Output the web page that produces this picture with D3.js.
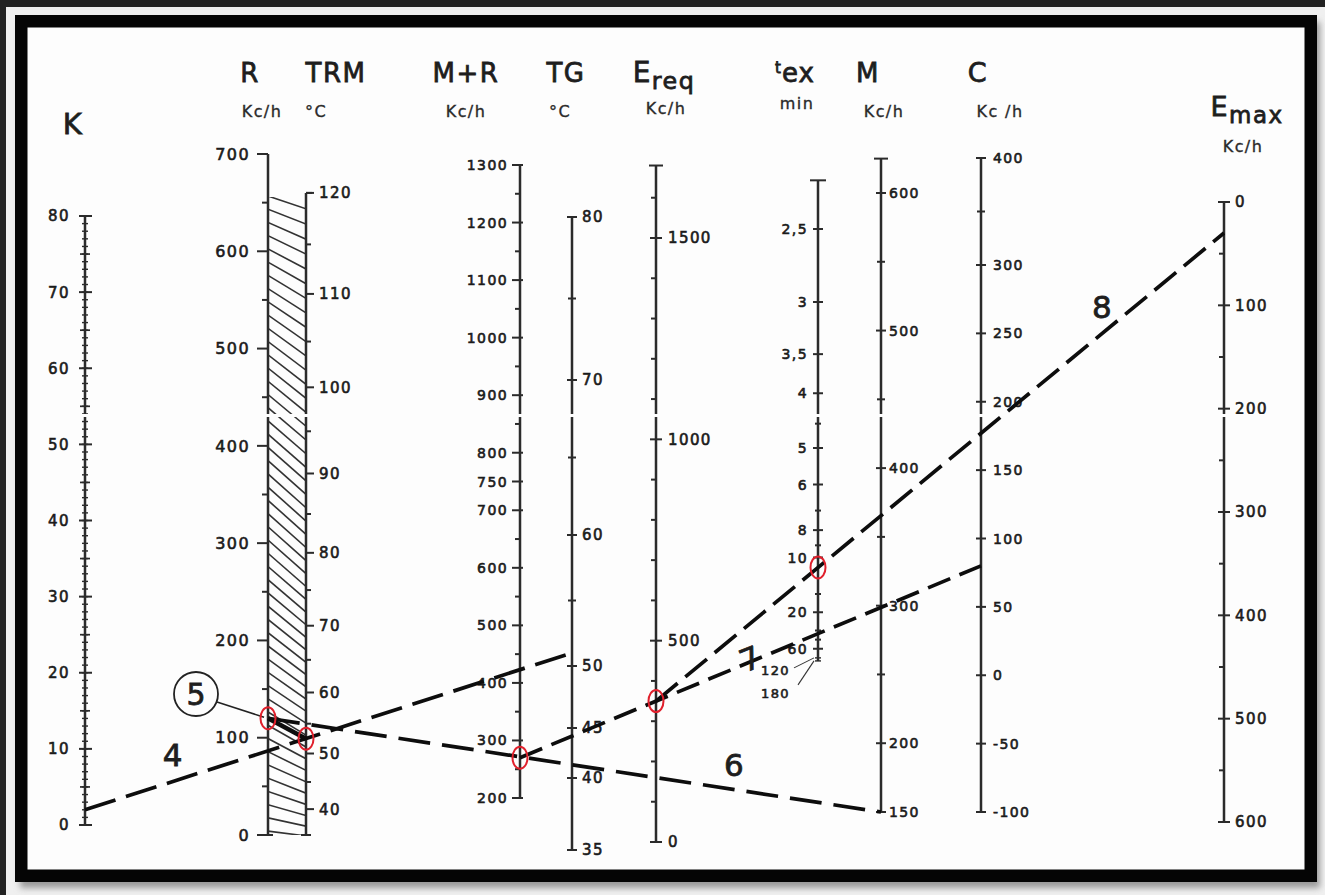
<!DOCTYPE html>
<html>
<head>
<meta charset="utf-8">
<script src="https://cdn.jsdelivr.net/npm/d3@7"></script>
<style>
    html, body { margin: 0; padding: 0; background: #f1f1f1; }
    svg { display: block; }
    .tick-label { font-family: "DejaVu Sans", sans-serif; font-size: 14px; fill: #1b1b1b; stroke: #1b1b1b; stroke-width: 0.6px; letter-spacing: 1.4px; }
    .title { font-family: "DejaVu Sans", sans-serif; fill: #1e1e1e; stroke: #1e1e1e; stroke-width: 0.8px; }
    .unit { font-family: "DejaVu Sans", sans-serif; font-size: 16px; fill: #2a2a2a; stroke: #2a2a2a; stroke-width: 0.35px; letter-spacing: 1.4px; }
</style>
</head>
<body>
<svg id="chart" width="1325" height="895"></svg>
<script>
// ---- tick values ----
const kLabels = [0, 10, 20, 30, 40, 50, 60, 70, 80];
const rLabels = [0, 100, 200, 300, 400, 500, 600, 700];
const rMinor = [50, 150, 250, 350, 450, 550, 650];
const trmLabels = [40, 50, 60, 70, 80, 90, 100, 110, 120];
const trmMinor = [45, 55, 65, 75, 85, 95, 105, 115];
const mrLabels = [200, 300, 400, 500, 600, 700, 750, 800, 900, 1000, 1100, 1200, 1300];
const mrMinor = [250, 350, 450, 550, 650, 850, 950, 1050, 1150, 1250];
const tgLabels = [35, 40, 45, 50, 60, 70, 80];
const tgMinor = [55, 65, 75];
const ereqLabels = [0, 500, 1000, 1500];
const ereqMinor = [100, 200, 300, 400, 600, 700, 800, 900, 1100, 1200, 1300, 1400, 1600];
const texLabels = [2.5, 3, 3.5, 4, 5, 6, 8, 10, 20, 60, 120, 180];
const texMinor = [4.5, 7, 9, 15, 30, 40];
const mLabels = [150, 200, 300, 400, 500, 600];
const mMinor = [250, 350, 450, 550];
const cLabels = [-100, -50, 0, 50, 100, 150, 200, 250, 300, 400];
const cMinor = [350];
const emaxLabels = [0, 100, 200, 300, 400, 500, 600];
const emaxMinor = [50, 150, 250, 350, 450, 550];

// ---- the worked solution (lines 4..8 and the circled readings) ----
const lineNames = ["4", "5", "6", "7", "8"];
const lineFrom = [["K", 2], ["R", 120], ["R", 120], ["MR", 270], ["Ereq", 350]];
const lineTo = [["TG", 51], ["TRM", 52.5], ["M", 150], ["C", 80], ["Emax", 30]];
const markerAxes = ["R", "TRM", "MR", "Ereq", "tex"];
const markerValues = [120, 52.5, 270, 350, 11];

const svg = d3.select("#chart");

// ---- scales ----
const yK = d3.scaleLinear().domain([0, 80]).range([825, 216]);
const yR = d3.scaleLinear().domain([0, 700]).range([835, 154]);
// TRM is a radiant (4th power) scale laid against R
const trmToR = d3.scaleLinear().domain([0, Math.pow(393, 4) - Math.pow(308, 4)]).range([0, 660]);
const yTRM = t => yR(trmToR(Math.pow(t + 273, 4) - Math.pow(308, 4)));
const yMR = d3.scaleLinear().domain([200, 1300]).range([798, 165]);
const yTG = d3.scaleLinear().domain([35, 40, 45, 50, 60, 70, 80]).range([850, 778, 728, 666, 535, 380, 217]);
const yE = d3.scaleLinear().domain([0, 1500]).range([842, 238]);
const yTexInv = d3.scaleLinear().domain([0, 0.4]).range([667, 229]);
const yTex = t => yTexInv(1 / t);
const yM = d3.scaleLinear().domain([150, 600]).range([812, 193]);
const yC = d3.scaleLinear().domain([-100, 300, 400]).range([812, 265, 158]);
const yEmax = d3.scaleLinear().domain([0, 600]).range([202, 822]);

const axisX = { K: 85, R: 268, TRM: 306, MR: 520, TG: 572, Ereq: 656, tex: 818, M: 881, C: 981, Emax: 1224 };
const axisY = { K: yK, R: yR, TRM: yTRM, MR: yMR, TG: yTG, Ereq: yE, tex: yTex, M: yM, C: yC, Emax: yEmax };
const axisExtent = { K: [0, 80], R: [0, 700], TRM: [35, 120], MR: [200, 1300], TG: [35, 80],
    Ereq: [0, 1680], tex: [2.25, 180], M: [150, 625], C: [-100, 400], Emax: [0, 600] };

// ---- frame ----
svg.append("rect").attr("width", 1325).attr("height", 895).attr("fill", "#f0f0f0");
svg.append("rect").attr("width", 1325).attr("height", 7).attr("fill", "#222");
svg.append("rect").attr("width", 6).attr("height", 895).attr("fill", "#222");

const defs = svg.append("defs");
defs.append("filter").attr("id", "soft")
    .append("feGaussianBlur").attr("stdDeviation", 3);
defs.append("clipPath").attr("id", "band")
    .append("rect")
    .attr("x", axisX.R).attr("y", yTRM(120) + 4)
    .attr("width", axisX.TRM - axisX.R)
    .attr("height", yR(0) - yTRM(120) - 4);

svg.append("rect")
    .attr("x", 20).attr("y", 22).attr("width", 1300).attr("height", 866)
    .attr("fill", "#9a9a9a").attr("filter", "url(#soft)");
svg.append("rect")
    .attr("x", 21.25).attr("y", 21.25).attr("width", 1289.5).attr("height", 854.5)
    .attr("fill", "#fdfdfd").attr("stroke", "#050505").attr("stroke-width", 12.5);

const g = svg.append("g");

// ---- helpers ----
function axisLine(key) {
    const ext = axisExtent[key];
    g.append("line")
        .attr("x1", axisX[key]).attr("x2", axisX[key])
        .attr("y1", axisY[key](ext[0])).attr("y2", axisY[key](ext[1]))
        .attr("stroke", "#2b2b2b").attr("stroke-width", 2.5);
}

function ticks(key, values, left, right, w) {
    g.selectAll(null).data(values).enter().append("line")
        .attr("x1", axisX[key] - left).attr("x2", axisX[key] + right)
        .attr("y1", d => axisY[key](d)).attr("y2", d => axisY[key](d))
        .attr("stroke", "#2b2b2b").attr("stroke-width", w || 2);
}

function labels(key, values, dx, anchor, fmt, size) {
    g.selectAll(null).data(values).enter().append("text")
        .attr("class", "tick-label")
        .attr("x", axisX[key] + dx)
        .attr("y", d => axisY[key](d))
        .attr("dy", "0.36em")
        .attr("text-anchor", anchor)
        .style("font-size", (size || 14) + "px")
        .text(fmt || (d => d));
}

// ---- hatched band between R and TRM ----
const hatch = g.append("g").attr("clip-path", "url(#band)");
const hatchVals = d3.range(4, 662, 13.6);
hatch.selectAll("line").data(hatchVals).enter().append("line")
    .attr("x1", axisX.R).attr("x2", axisX.TRM)
    .attr("y1", d => yR(d))
    .attr("y2", d => yR(d) + 3 + 31 * Math.pow(Math.sin(Math.PI * d / 700), 0.7))
    .attr("stroke", "#333").attr("stroke-width", 1.6);

// ---- axes ----
Object.keys(axisX).forEach(axisLine);

// K : ruler
ticks("K", d3.range(0, 81, 1), 3, 3, 1.4);
ticks("K", d3.range(5, 80, 10), 5, 5, 1.7);
ticks("K", kLabels, 6, 7, 2);
labels("K", kLabels, -15, "end", null, 15);

// R
ticks("R", rLabels, 11, 0);
ticks("R", rMinor, 6, 0);
ticks("R", [0], 5, 5);
labels("R", rLabels, -18, "end", null, 16);

// TRM
ticks("TRM", trmLabels, 0, 8);
ticks("TRM", trmMinor, 0, 5);
ticks("TRM", [35], 5, 5);
ticks("TRM", [120], 0, 6);
labels("TRM", trmLabels, 13, "start", null, 15);

// M+R
ticks("MR", mrLabels, 8, 3);
ticks("MR", mrMinor, 5, 0);
labels("MR", mrLabels, -12, "end", null, 14);

// TG
ticks("TG", tgLabels, 5, 5);
ticks("TG", tgMinor, 4, 4);
labels("TG", tgLabels, 10, "start", null, 15);

// Ereq
ticks("Ereq", ereqLabels, 6, 6);
ticks("Ereq", ereqMinor, 5, 0);
ticks("Ereq", [1680], 7, 7);
labels("Ereq", ereqLabels, 12, "start", null, 15);

// tex : reciprocal time scale
ticks("tex", texLabels.filter(d => d <= 60), 5, 5);
ticks("tex", texMinor, 3, 3);
ticks("tex", [2.25], 8, 8);
ticks("tex", [120, 180], 3, 3, 1.4);
labels("tex", texLabels.filter(d => d <= 60), -10, "end", d => String(d).replace(".", ","), 14);
// crowded long-time labels, pulled down with leader strokes
const texLate = texLabels.filter(d => d > 60);
g.selectAll(null).data(texLate).enter().append("text")
    .attr("class", "tick-label")
    .attr("x", axisX.tex - 28)
    .attr("y", (d, i) => yTex(d) + 12 + i * 20)
    .attr("dy", "0.36em")
    .attr("text-anchor", "end")
    .style("font-size", "13px")
    .text(d => d);
g.selectAll(null).data(texLate).enter().append("line")
    .attr("x1", (d, i) => axisX.tex - 24 + i * 4)
    .attr("y1", (d, i) => yTex(d) + 10 + i * 14)
    .attr("x2", axisX.tex - 4).attr("y2", d => yTex(d))
    .attr("stroke", "#333").attr("stroke-width", 1.1);

// M
ticks("M", mLabels, 5, 5);
ticks("M", mMinor, 4, 4);
ticks("M", [625], 7, 7);
labels("M", mLabels, 8, "start", null, 14);

// C
ticks("C", cLabels, 5, 5);
ticks("C", cMinor, 4, 4);
labels("C", cLabels, 12, "start", null, 14);

// Emax
ticks("Emax", emaxLabels, 6, 6);
ticks("Emax", emaxMinor, 5, 0);
labels("Emax", emaxLabels, 11, "start", null, 15);

// scan seam across the sheet
g.append("rect").attr("x", 28).attr("y", 414).attr("width", 1274).attr("height", 3).attr("fill", "#fdfdfd");

// ---- headers ----
function header(x, y, txt, size, sub) {
    const t = g.append("text").attr("class", "title")
        .attr("x", x).attr("y", y).attr("text-anchor", "middle")
        .style("font-size", size + "px").style("letter-spacing", "1.5px");
    t.append("tspan").text(txt);
    if (sub) t.append("tspan").attr("dy", 7).style("font-size", (size * 0.85) + "px").text(sub);
}
function unit(x, y, txt) {
    g.append("text").attr("class", "unit").attr("x", x).attr("y", y)
        .attr("text-anchor", "middle").text(txt);
}
header(73, 134, "K", 29);
header(250, 82, "R", 26);
unit(262, 117, "Kc/h");
header(336, 82, "TRM", 26);
unit(316, 117, "°C");
header(466, 82, "M+R", 26);
unit(466, 117, "Kc/h");
header(566, 82, "TG", 26);
unit(560, 117, "°C");
header(664, 82, "E", 28, "req");
unit(666, 114, "Kc/h");
g.append("text").attr("class", "title").attr("x", 775).attr("y", 82)
    .style("font-size", "26px").style("letter-spacing", "1px")
    .call(t => {
        t.append("tspan").attr("dy", -9).style("font-size", "15px").text("t");
        t.append("tspan").attr("dy", 9).text("ex");
    });
unit(797, 109, "min");
header(868, 82, "M", 26);
unit(884, 117, "Kc/h");
header(978, 82, "C", 27);
unit(1000, 117, "Kc /h");
header(1247, 116, "E", 27, "max");
unit(1243, 152, "Kc/h");

// ---- solution lines ----
const pt = a => [axisX[a[0]], axisY[a[0]](a[1])];
const lineGen = d3.line();
const dashes = ["32 11", null, "32 12", "24 10", "28 10"];

lineNames.forEach((name, i) => {
    const p0 = pt(lineFrom[i]), p1 = pt(lineTo[i]);
    g.append("path")
        .attr("d", lineGen([p0, p1]))
        .attr("fill", "none")
        .attr("stroke", "#0d0d0d")
        .attr("stroke-width", dashes[i] ? 3.7 : 4.6)
        .attr("stroke-dasharray", dashes[i]);
});

// line names written beside their lines
const nameAt = { "4": [0.18, -16, 0], "6": [0.76, -14, 0], "7": [0.5, 8, -22], "8": [0.785, -16, 0] };
lineNames.filter(n => nameAt[n]).forEach(n => {
    const i = lineNames.indexOf(n);
    const p0 = pt(lineFrom[i]), p1 = pt(lineTo[i]);
    const f = nameAt[n];
    const x = p0[0] + (p1[0] - p0[0]) * f[0];
    const y = p0[1] + (p1[1] - p0[1]) * f[0] + f[1];
    g.append("text").attr("class", "title")
        .attr("x", x).attr("y", y)
        .attr("text-anchor", "middle")
        .attr("transform", `rotate(${f[2]},${x},${y - 10})`)
        .style("font-size", "31px")
        .text(n);
});

// circled 5 with its leader to the R reading
const r5 = pt(lineFrom[1]);
g.append("line")
    .attr("x1", 217).attr("y1", 702).attr("x2", r5[0] - 4).attr("y2", r5[1] - 1)
    .attr("stroke", "#222").attr("stroke-width", 1.6);
g.append("circle").attr("cx", 196).attr("cy", 694).attr("r", 22)
    .attr("fill", "#fdfdfd").attr("stroke", "#222").attr("stroke-width", 1.8);
g.append("text").attr("class", "title").attr("x", 196).attr("y", 705)
    .attr("text-anchor", "middle").style("font-size", "30px").text("5");

// red reading markers
g.selectAll(".marker").data(markerAxes).enter().append("ellipse")
    .attr("class", "marker")
    .attr("cx", d => axisX[d])
    .attr("cy", (d, i) => axisY[d](markerValues[i]))
    .attr("rx", 7.5).attr("ry", 11)
    .attr("fill", "none").attr("stroke", "#e0202c").attr("stroke-width", 2);
</script>
</body>
</html>
